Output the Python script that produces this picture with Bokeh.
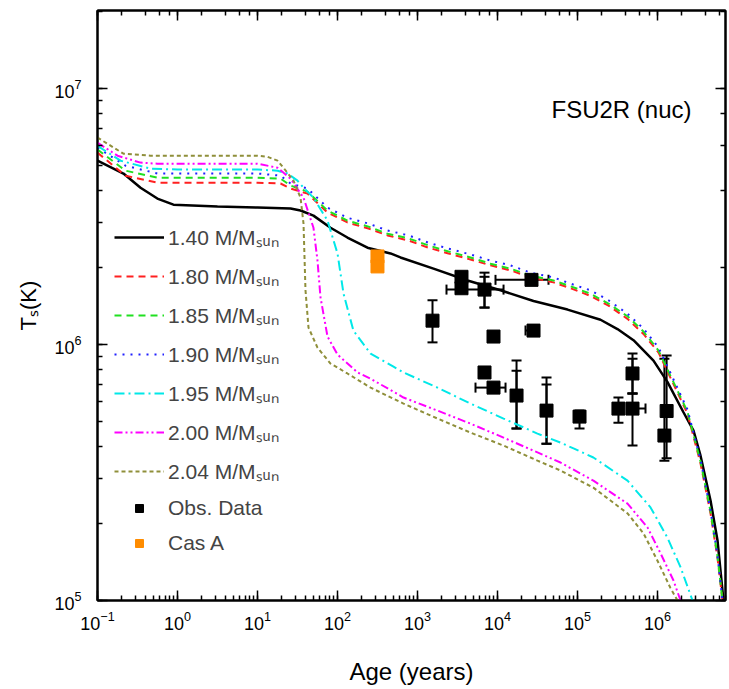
from bokeh.plotting import figure
from bokeh.models import (LogAxis, LogTicker, Legend, LegendItem, Whisker, TeeHead,
                          ColumnDataSource, Label, CustomJSTickFormatter)
from bokeh.embed import file_html
from bokeh.resources import INLINE

FONT = "Liberation Sans"

# ---------------- data ----------------
age_140 = [0.1, 0.211, 0.345, 0.56, 0.89, 3.16, 10, 25.9, 34.5, 50.1, 81.8, 133, 237, 460, 613,
           1585, 4217, 1.09e4, 2.82e4, 7.5e4, 1.94e5, 3.16e5, 5.01e5, 8.91e5, 1.33e6, 2.11e6,
           2.82e6, 3.45e6, 4.6e6, 5.62e6, 6.68e6, 7.2e6]
t_140 = [5.23e6, 4.66e6, 4.10e6, 3.72e6, 3.52e6, 3.46e6, 3.43e6, 3.40e6, 3.34e6, 3.19e6, 2.86e6,
         2.62e6, 2.39e6, 2.27e6, 2.19e6, 1.98e6, 1.78e6, 1.63e6, 1.48e6, 1.37e6, 1.25e6, 1.15e6,
         1.04e6, 8.66e5, 7.15e5, 5.44e5, 4.61e5, 3.68e5, 2.46e5, 1.72e5, 1.0e5, 8.0e4]

age_cl = [0.1, 0.224, 0.56, 3.16, 10, 19.4, 25.9, 42.2, 75, 133, 244, 422, 772, 1372, 2440, 4597,
          8175, 1.45e4, 2.59e4, 5.01e4, 8.18e4, 1.45e5, 2.44e5, 4.22e5, 6.68e5, 1.03e6, 1.37e6,
          2.37e6, 3.45e6, 4.6e6, 5.62e6, 6.49e6, 7.0e6]
t_180 = [5.62e6, 4.57e6, 4.29e6, 4.29e6, 4.29e6, 4.26e6, 4.07e6, 3.89e6, 3.28e6, 3.00e6, 2.84e6,
         2.67e6, 2.55e6, 2.39e6, 2.27e6, 2.15e6, 2.04e6, 1.95e6, 1.83e6, 1.75e6, 1.66e6, 1.55e6,
         1.42e6, 1.26e6, 1.10e6, 9.31e5, 7.71e5, 5.37e5, 3.43e5, 2.19e5, 1.47e5, 1.0e5, 8.0e4]
t_185 = [5.78e6, 4.78e6, 4.49e6, 4.49e6, 4.49e6, 4.45e6, 4.18e6, 3.96e6, 3.34e6, 3.05e6, 2.89e6,
         2.71e6, 2.60e6, 2.44e6, 2.31e6, 2.19e6, 2.07e6, 1.98e6, 1.86e6, 1.78e6, 1.69e6, 1.58e6,
         1.445e6, 1.29e6, 1.124e6, 9.48e5, 7.85e5, 5.47e5, 3.49e5, 2.23e5, 1.49e5, 1.0e5, 8.0e4]
t_190 = [5.88e6, 5.00e6, 4.66e6, 4.66e6, 4.66e6, 4.57e6, 4.26e6, 4.07e6, 3.43e6, 3.13e6, 2.97e6,
         2.79e6, 2.67e6, 2.50e6, 2.37e6, 2.25e6, 2.13e6, 2.04e6, 1.91e6, 1.83e6, 1.73e6, 1.63e6,
         1.49e6, 1.32e6, 1.155e6, 9.73e5, 8.06e5, 5.57e5, 3.56e5, 2.25e5, 1.50e5, 1.0e5, 8.0e4]

age_195 = [0.1, 0.194, 0.46, 1, 10, 17.8, 23.7, 31.6, 37.6, 50.1, 75, 100, 119, 158, 259, 501, 668,
           1778, 4597, 1.19e4, 3.16e4, 6.13e4, 8.91e4, 1.58e5, 4.22e5, 8.18e5, 1.33e6, 1.94e6,
           2.74e6, 3.0e6]
t_195 = [5.98e6, 5.23e6, 4.87e6, 4.83e6, 4.83e6, 4.78e6, 4.66e6, 4.37e6, 4.10e6, 3.75e6, 3.05e6,
         2.27e6, 1.58e6, 1.134e6, 9.22e5, 8.2e5, 7.78e5, 6.79e5, 5.88e5, 5.14e5, 4.49e5, 4.14e5,
         3.93e5, 3.62e5, 2.94e5, 2.31e5, 1.76e5, 1.35e5, 1.0e5, 8.0e4]

age_200 = [0.1, 0.178, 0.345, 0.56, 10, 17.8, 25.9, 37.6, 50.1, 56.2, 61.3, 75, 100, 178, 259, 668,
           1778, 4597, 1.19e4, 3.16e4, 6.13e4, 1.58e5, 4.22e5, 7.5e5, 1.09e6, 1.58e6, 1.94e6, 2.1e6]
t_200 = [6.15e6, 5.47e6, 5.14e6, 5.09e6, 5.09e6, 4.91e6, 4.45e6, 3.75e6, 2.86e6, 2.13e6, 1.53e6,
         1.075e6, 9.14e5, 7.78e5, 7.36e5, 6.21e5, 5.52e5, 4.91e5, 4.33e5, 3.79e5, 3.46e5, 2.94e5,
         2.39e5, 1.93e5, 1.53e5, 1.20e5, 1.0e5, 8.0e4]

age_204 = [0.1, 0.211, 0.46, 10, 13.3, 17.8, 21.1, 28.2, 34.5, 37.6, 38.7, 39.8, 43.4, 56.2, 81.8,
           133, 259, 668, 1778, 4597, 1.19e4, 3.16e4, 6.13e4, 1.58e5, 4.22e5, 6.68e5, 1.0e6,
           1.45e6, 1.78e6, 1.9e6]
t_204 = [6.44e6, 5.57e6, 5.47e6, 5.47e6, 5.42e6, 5.23e6, 4.91e6, 4.37e6, 3.75e6, 2.97e6, 2.19e6,
         1.63e6, 1.165e6, 9.73e5, 8.43e5, 7.71e5, 6.79e5, 5.88e5, 5.14e5, 4.53e5, 4.03e5, 3.52e5,
         3.22e5, 2.76e5, 2.19e5, 1.83e5, 1.43e5, 1.12e5, 1.0e5, 8.0e4]

obs_age = [1540, 3548, 3548, 6880, 2.66e4, 8913, 2.82e4, 6880, 8913, 1.73e4, 4.10e4, 1.06e5,
           3.25e5, 4.87e5, 4.87e5, 1.30e6, 1.22e6]
obs_t = [1.24e6, 1.84e6, 1.66e6, 1.64e6, 1.79e6, 1.075e6, 1.134e6, 7.78e5, 6.79e5, 6.32e5, 5.52e5,
         5.23e5, 5.62e5, 7.71e5, 5.62e5, 5.5e5, 4.41e5]

# vertical error bars
verr_age = [1540, 6880, 6880, 1.73e4, 1.73e4, 4.10e4, 4.10e4, 1.06e5, 3.25e5, 4.87e5, 4.87e5,
            4.87e5, 1.30e6, 1.22e6]
verr_lo = [1.02e6, 1.395e6, 1.395e6, 4.70e5, 4.70e5, 4.10e5, 4.10e5, 4.70e5, 4.95e5, 6.44e5,
           6.44e5, 4.03e5, 3.6e5, 3.52e5]
verr_hi = [1.49e6, 1.91e6, 1.84e6, 8.66e5, 7.91e5, 7.43e5, 6.98e5, 5.52e5, 6.21e5, 9.22e5,
           8.8e5, 6.44e5, 9.06e5, 8.8e5]
# horizontal error bars
herr_t = [1.64e6, 1.79e6, 1.134e6, 6.79e5, 5.62e5]
herr_lo = [2304, 9441, 2.24e4, 5309, 4.22e5]
herr_hi = [1.19e4, 4.34e4, 2.82e4, 1.26e4, 7.08e5]

casa_age = [316, 316]
casa_t = [2.21e6, 2.02e6]

labels = ["1.40 M/M\u209b\u1d64\u2099", "1.80 M/M\u209b\u1d64\u2099", "1.85 M/M\u209b\u1d64\u2099",
          "1.90 M/M\u209b\u1d64\u2099", "1.95 M/M\u209b\u1d64\u2099", "2.00 M/M\u209b\u1d64\u2099",
          "2.04 M/M\u209b\u1d64\u2099", "Obs. Data", "Cas A"]

# ---------------- figure ----------------
p = figure(x_axis_type="log", y_axis_type="log",
           x_range=(0.1, 7.08e6), y_range=(1e5, 2.02e7),
           frame_width=628, frame_height=590,
           min_border_left=97, min_border_top=10, min_border_right=3, min_border_bottom=86,
           output_backend="svg", toolbar_location=None)
p.grid.visible = False
p.outline_line_color = "black"
p.outline_line_width = 2
p.background_fill_color = "white"
p.border_fill_color = "white"


def style(ax):
    ax.axis_line_width = 2
    ax.axis_line_color = "black"
    ax.major_tick_in = 10
    ax.major_tick_out = 0
    ax.minor_tick_in = 5
    ax.minor_tick_out = 0
    ax.major_tick_line_width = 1.5
    ax.minor_tick_line_width = 1.5
    ax.major_label_text_font = FONT
    ax.major_label_text_font_size = "18px"
    ax.major_label_text_color = "black"


style(p.xaxis[0])
style(p.yaxis[0])
p.xaxis[0].major_label_standoff = 10
p.yaxis[0].major_label_standoff = 16
p.xaxis[0].axis_label = "Age (years)"
p.yaxis[0].axis_label = "T\u209b(K)"
for ax in (p.xaxis[0], p.yaxis[0]):
    ax.axis_label_text_font = FONT
    ax.axis_label_text_font_style = "normal"
    ax.axis_label_text_color = "black"
p.xaxis[0].axis_label_text_font_size = "24px"
p.yaxis[0].axis_label_text_font_size = "22px"
p.xaxis[0].axis_label_standoff = 25
p.yaxis[0].axis_label_standoff = 10

top = LogAxis(ticker=LogTicker(), formatter=CustomJSTickFormatter(code="return ' ';"))
style(top)
top.major_label_standoff = 0
top.major_label_text_font_size = "2px"
p.add_layout(top, "above")
right = LogAxis(ticker=LogTicker(), formatter=CustomJSTickFormatter(code="return ' ';"))
style(right)
right.major_label_standoff = 0
right.major_label_text_font_size = "2px"
p.add_layout(right, "right")

r140 = p.line(age_140, t_140, line_color="black", line_width=2.5)
r180 = p.line(age_cl, t_180, line_color="#ff2020", line_width=2, line_dash="7 5")
r185 = p.line(age_cl, t_185, line_color="#20e020", line_width=2, line_dash="7 5")
r190 = p.line(age_cl, t_190, line_color="#2020ff", line_width=2, line_dash="2 6")
r195 = p.line(age_195, t_195, line_color="#00e8e8", line_width=2, line_dash="10 4 2 4")
r200 = p.line(age_200, t_200, line_color="#ff00ff", line_width=2, line_dash="8 3 2 3 2 3")
r204 = p.line(age_204, t_204, line_color="#8f8f3a", line_width=2, line_dash="4 3")

vsrc = ColumnDataSource(dict(x=verr_age, lo=verr_lo, hi=verr_hi))
p.add_layout(Whisker(source=vsrc, base="x", lower="lo", upper="hi", dimension="height",
                     line_color="black", line_width=2,
                     upper_head=TeeHead(size=10, line_width=2, line_color="black"),
                     lower_head=TeeHead(size=10, line_width=2, line_color="black")))
hsrc = ColumnDataSource(dict(y=herr_t, lo=herr_lo, hi=herr_hi))
p.add_layout(Whisker(source=hsrc, base="y", lower="lo", upper="hi", dimension="width",
                     line_color="black", line_width=2,
                     upper_head=TeeHead(size=10, line_width=2, line_color="black"),
                     lower_head=TeeHead(size=10, line_width=2, line_color="black")))

robs = p.scatter(obs_age, obs_t, marker="square", size=13, color="black")
rcas = p.scatter(casa_age, casa_t, marker="square", size=13, color="#ff8c00")

p.add_layout(Label(x=47300, y=8.3e6, text="FSU2R (nuc)", text_font=FONT,
                   text_font_size="24px", text_baseline="middle", text_color="black"))

rends = [r140, r180, r185, r190, r195, r200, r204, robs, rcas]
legend = Legend(items=[LegendItem(label=l, renderers=[r]) for l, r in zip(labels, rends)],
                location=(17, 45), padding=0, margin=0, spacing=11,
                glyph_width=50, glyph_height=20, label_height=20, label_standoff=4,
                label_text_font=FONT, label_text_font_size="21px",
                background_fill_alpha=0, border_line_color=None)
p.add_layout(legend)

open("out.html", "w").write(file_html(p, INLINE))
